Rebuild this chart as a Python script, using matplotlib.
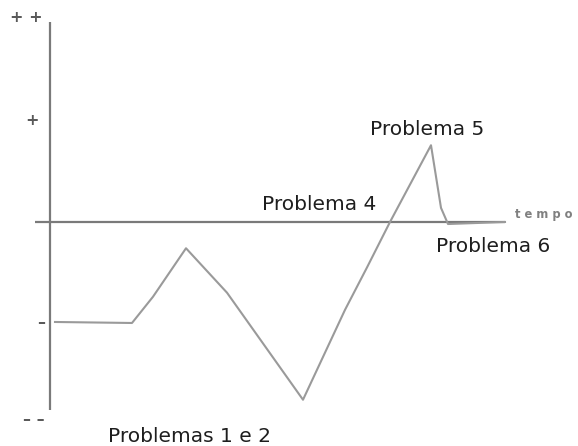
import matplotlib
matplotlib.use("Agg")
import matplotlib.pyplot as plt

# curve: time (arbitrary units) vs level (-- = -2 ... ++ = +2)
tempo = [0.5, 8.2, 10.3, 13.6, 17.7, 25.3, 29.5, 31.7, 34.0, 38.1, 39.1, 39.8, 45.5]
nivel = [-0.99, -1.0, -0.74, -0.26, -0.70, -1.76, -0.87, -0.45, 0.0, 0.76, 0.14, -0.02, 0.0]

level_marks = ["+ +", "+", "\u2013", "\u2013 \u2013"]
level_vals = [2.02, 1.0, -1.0, -1.96]
level_x = [-2.4, -1.8, -0.9, -1.6]

labels = ["Problemas 1 e 2", "Problema 4", "Problema 5", "Problema 6"]
label_t = [13.9, 26.9, 37.7, 44.3]
label_v = [-2.12, 0.17, 0.92, -0.24]

fig = plt.figure(figsize=(5.78, 4.46), dpi=100)
ax = fig.add_axes([0, 0, 1, 1])
ax.set_xlim(-5.0, 52.8)
ax.set_ylim(-2.218, 2.198)
ax.axis("off")

axis_col = "#7a7a7a"
# axes of the sketch
ax.plot([0, 0], [-1.86, 1.98], color=axis_col, lw=1.6, solid_capstyle="butt")
ax.plot([-1.5, 45.5], [0, 0], color=axis_col, lw=1.6, solid_capstyle="butt")

ax.plot(tempo, nivel, color="#9a9a9a", lw=1.5)

for m, v, x in zip(level_marks, level_vals, level_x):
    ax.text(x, v, m, ha="center", va="center", fontsize=11.5, fontweight="bold",
            color="#5a5a5a")

ax.text(46.5, 0.07, "t e m p o", ha="left", va="center", fontsize=8.3,
        fontweight="bold", color="#808080")

for lab, t, v in zip(labels, label_t, label_v):
    ax.text(t, v, lab, ha="center", va="center", fontsize=14.5, color="#1e1e1e")

fig.savefig("out.png", dpi=100)
